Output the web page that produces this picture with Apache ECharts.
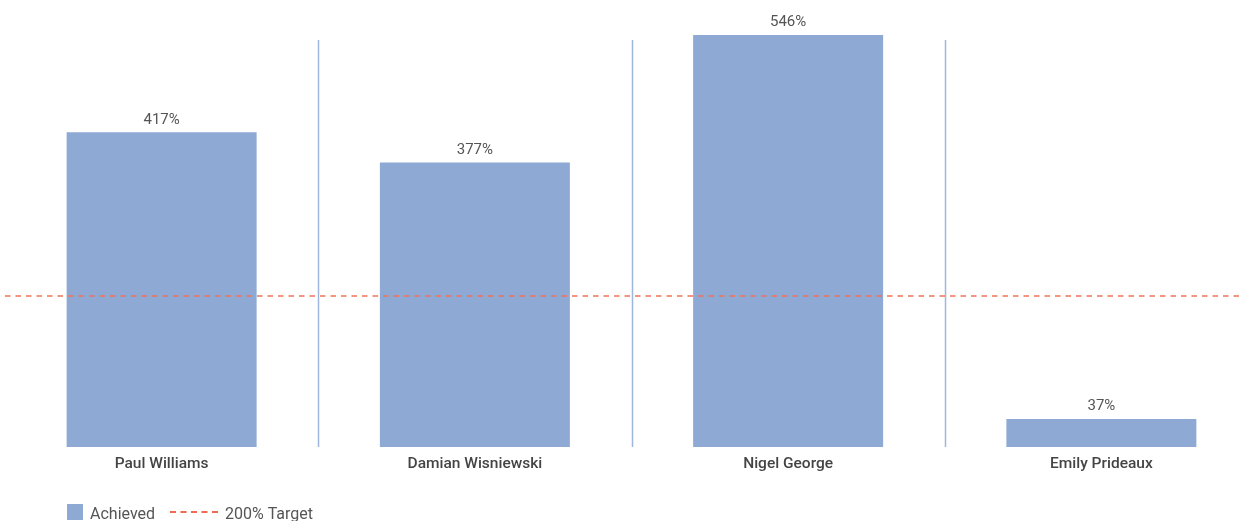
<!DOCTYPE html>
<html>
<head>
<meta charset="utf-8">
<script src="https://cdn.jsdelivr.net/npm/echarts@6/dist/echarts.min.js"></script>
<style>
html,body{margin:0;padding:0;background:#fff;}
#chart{width:1244px;height:521px;}
</style>
</head>
<body>
<div id="chart"></div>
<script>
const categories = ['Paul Williams', 'Damian Wisniewski', 'Nigel George', 'Emily Prideaux'];
const achieved = [417, 377, 546, 37];
const targetValue = 200;
const seriesNames = ['Achieved', '200% Target'];

const separators = categories.slice(1).map((c, i) => [i + 1, 0]);

const chart = echarts.init(document.getElementById('chart'));
const font = 'Roboto, "Noto Sans", sans-serif';
const legendText = {
  fontFamily: font, fontSize: 16, color: '#555',
  rich: { t: { fontFamily: font, fontSize: 16, color: '#555', padding: [5, 0, 0, 2] } }
};
chart.setOption({
  animation: false,
  grid: { left: 5, right: -14, top: 35, bottom: 74, containLabel: false, outerBoundsMode: 'none' },
  legend: [
    {
      data: [{ name: seriesNames[0], icon: 'rect' }],
      left: 67, top: 504, padding: 0, itemWidth: 16, itemHeight: 16, itemGap: 7,
      formatter: '{t|{name}}',
      textStyle: legendText
    },
    {
      data: [{ name: seriesNames[1], icon: 'path://M0,0H6V2H0Z M10.5,0H16.5V2H10.5Z M21,0H27V2H21Z M31.5,0H37.5V2H31.5Z M42,0H48V2H42Z' }],
      left: 170, top: 506.5, padding: 0, itemWidth: 48, itemHeight: 16, itemGap: 7,
      formatter: '{t|{name}}',
      textStyle: legendText
    }
  ],
  xAxis: {
    type: 'category',
    data: categories,
    axisLine: { show: false },
    axisTick: { show: false },
    axisLabel: { fontFamily: font, fontSize: 15.5, fontWeight: 500, color: '#444', margin: 9 }
  },
  yAxis: {
    type: 'value', min: 0, max: 546, show: false,
    splitLine: { show: false }
  },
  series: [
    {
      name: seriesNames[0],
      type: 'bar',
      data: achieved,
      barWidth: 190,
      itemStyle: { color: '#8eaad4' },
      label: {
        show: true, position: 'top', distance: 5,
        formatter: p => p.value + '%',
        fontFamily: font, fontSize: 15, color: '#555'
      }
    },
    {
      name: seriesNames[1],
      type: 'line',
      data: [],
      itemStyle: { color: '#ee6a52' },
      lineStyle: { color: '#ee6a52', type: [5, 5] },
      markLine: {
        silent: true,
        symbol: 'none',
        label: { show: false },
        lineStyle: { color: '#ee7358', type: [5.5, 5], width: 1.5 },
        data: [{ yAxis: targetValue }]
      }
    },
    {
      name: 'separators',
      type: 'custom',
      data: separators,
      silent: true,
      renderItem: function (params, api) {
        const i = api.value(0);
        const c = api.coord([i, 0]);
        const w = api.size([1, 0])[0];
        const x = Math.round(c[0] - w / 2) + 0.5;
        const top = params.coordSys.y + 5;
        return {
          type: 'line',
          shape: { x1: x, y1: top, x2: x, y2: c[1] },
          style: { stroke: '#9fb7de', lineWidth: 1.5 }
        };
      }
    }
  ]
});
</script>
</body>
</html>
